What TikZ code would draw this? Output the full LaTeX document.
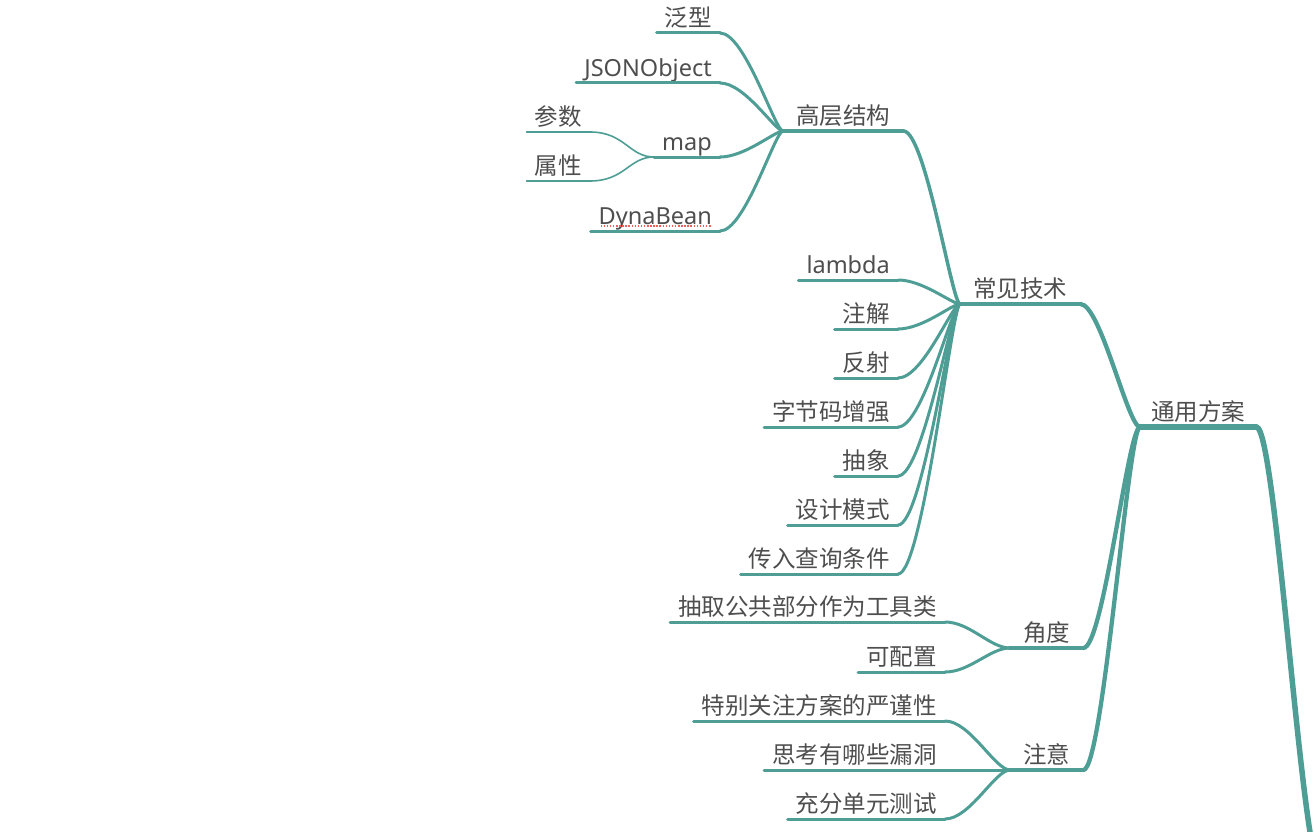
\documentclass[tikz,border=0pt]{standalone}
\usepackage{fontspec}
\setmainfont{Noto Sans CJK SC}
\newfontfamily\lat{Noto Sans}
\usetikzlibrary{calc}
\definecolor{teal1}{RGB}{78,158,150}
\definecolor{txt}{RGB}{78,78,78}
\definecolor{spell}{RGB}{235,95,95}
\tikzset{
  topic/.style={font=\fontsize{23.5}{26}\selectfont, text=txt, inner ysep=4.5pt, text height=18pt, text depth=2pt},
  leafnode/.style={topic, inner xsep=8pt, anchor=south east},
  parentnode/.style={topic, inner xsep=13pt, anchor=south west},
  ul/.style={draw=teal1, line cap=round},
  lk/.style={out=0, in=180},
  w0/.style={line width=5.5pt},
  w1/.style={line width=4.3pt},
  w2/.style={line width=3.5pt},
  w3/.style={line width=3pt},
  w4/.style={line width=1.6pt},
}
\begin{document}
\begin{tikzpicture}[x=1pt,y=-1pt]
\useasboundingbox (0,0) rectangle (1314,832);
\clip (0,0) rectangle (1314,832);
% parents
\node[parentnode, inner xsep=11pt] (tyfa) at (1140,427) {通用方案};
\node[parentnode] (cjjs) at (960,304) {常见技术};
\node[parentnode] (gcjg) at (783,131) {高层结构};
\node[parentnode] (jd) at (1010,648) {角度};
\node[parentnode] (zy) at (1010,770) {注意};
\coordinate (root) at (1322,875);
% leaves of 高层结构
\node[leafnode] (fx) at (720,33) {泛型};
\node[leafnode] (json) at (720,83) {\lat JSONObject};
\node[leafnode] (map) at (720,157) {\lat map};
\node[leafnode] (dyna) at (720,231) {\lat DynaBean};
\node[leafnode] (cs) at (590,132) {参数};
\node[leafnode] (sx) at (590,181) {属性};
% leaves of 常见技术
\node[leafnode] (lam) at (898,280) {\lat lambda};
\node[leafnode] (zj) at (898,329) {注解};
\node[leafnode] (fs) at (898,378) {反射};
\node[leafnode] (zjm) at (898,427) {字节码增强};
\node[leafnode] (cx) at (898,476) {抽象};
\node[leafnode] (sjms) at (898,525) {设计模式};
\node[leafnode] (crcx) at (898,574) {传入查询条件};
% leaves of 角度 / 注意
\node[leafnode] (cq) at (945,622) {抽取公共部分作为工具类};
\node[leafnode] (kpz) at (945,672) {可配置};
\node[leafnode] (tb) at (945,721) {特别关注方案的严谨性};
\node[leafnode] (sk) at (945,770) {思考有哪些漏洞};
\node[leafnode] (cf) at (945,819) {充分单元测试};
% underlines
\foreach \n in {tyfa}{\draw[ul,w0] (\n.south west) -- (\n.south east);}
\foreach \n in {cjjs,jd,zy}{\draw[ul,w1] (\n.south west) -- (\n.south east);}
\foreach \n in {gcjg}{\draw[ul,w2] (\n.south west) -- (\n.south east);}
\foreach \n in {fx,json,map,dyna,lam,zj,fs,zjm,cx,sjms,crcx,cq,kpz,tb,sk,cf}{\draw[ul,w3] (\n.south west) -- (\n.south east);}
\foreach \n in {cs,sx}{\draw[ul,w4] (\n.south west) -- (\n.south east);}
% connectors
\draw[ul,w0] (tyfa.south east) to[lk, out distance=20pt, in distance=20pt] (root);
\foreach \n in {cjjs,jd,zy}{\draw[ul,w1] (\n.south east) to[lk, out distance=20pt, in distance=12pt] (tyfa.south west);}
\draw[ul,w2] (gcjg.south east) to[lk, out distance=22pt, in distance=8pt] (cjjs.south west);
\foreach \n in {lam,zj,fs,zjm,cx,sjms,crcx}{\draw[ul,w3] (\n.south east) to[lk, out distance=25pt, in distance=8pt] (cjjs.south west);}
\foreach \n in {fx,json,map,dyna}{\draw[ul,w3] (\n.south east) to[lk, out distance=25pt, in distance=8pt] (gcjg.south west);}
\foreach \n in {cs,sx}{\draw[ul,w4] (\n.south east) to[lk, out distance=35pt, in distance=25pt] (map.south west);}
\foreach \n in {cq,kpz}{\draw[ul,w3] (\n.south east) to[lk, out distance=25pt, in distance=20pt] (jd.south west);}
\foreach \n in {tb,sk,cf}{\draw[ul,w3] (\n.south east) to[lk, out distance=25pt, in distance=15pt] (zy.south west);}
% spell-check mark under DynaBean
\draw[spell, line width=1.6pt, dash pattern=on 1.5pt off 1.6pt] ($(dyna.south west)+(10pt,5pt)$) -- ($(dyna.south east)+(-8pt,5pt)$);
\end{tikzpicture}
\end{document}
